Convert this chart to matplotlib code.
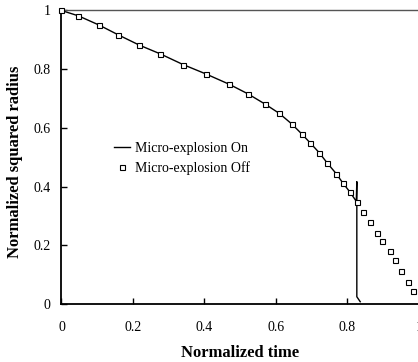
import matplotlib
matplotlib.use("Agg")
import matplotlib.pyplot as plt

# Micro-explosion Off (open squares)
t_off = [0.0, 0.047, 0.106, 0.159, 0.218, 0.277, 0.340, 0.404, 0.469, 0.522,
         0.570, 0.609, 0.644, 0.672, 0.696, 0.721, 0.744, 0.769, 0.787, 0.807,
         0.826, 0.845, 0.864, 0.884, 0.897, 0.918, 0.932, 0.950, 0.971, 0.985]
r_off = [1.000, 0.982, 0.950, 0.917, 0.882, 0.852, 0.816, 0.784, 0.749, 0.716,
         0.681, 0.650, 0.614, 0.580, 0.549, 0.516, 0.480, 0.444, 0.413, 0.382,
         0.349, 0.314, 0.278, 0.242, 0.215, 0.180, 0.150, 0.113, 0.074, 0.045]

# Micro-explosion On (solid line)
t_on = [0.0, 0.047, 0.106, 0.159, 0.218, 0.277, 0.340, 0.404, 0.469, 0.522,
        0.570, 0.609, 0.644, 0.672, 0.696, 0.721, 0.744, 0.769, 0.787, 0.807,
        0.825, 0.8265, 0.8265, 0.836]
r_on = [1.000, 0.982, 0.950, 0.917, 0.882, 0.852, 0.816, 0.784, 0.749, 0.716,
        0.681, 0.650, 0.614, 0.580, 0.549, 0.516, 0.480, 0.444, 0.413, 0.382,
        0.350, 0.417, 0.025, 0.008]

ticks = [0, 0.2, 0.4, 0.6, 0.8, 1]
tick_labels = ["0", "0.2", "0.4", "0.6", "0.8", "1"]

plt.rcParams["font.family"] = ["Liberation Serif", "DejaVu Serif"]

fig = plt.figure(figsize=(4.18, 3.62), dpi=100)
ax = fig.add_axes([0.147, 0.160, 0.855, 0.811])

ax.plot(t_on, r_on, color="black", linewidth=1.0, label="Micro-explosion On")
ax.plot(t_off, r_off, linestyle="none", marker="s", markersize=3.6,
        markerfacecolor="white", markeredgecolor="black", markeredgewidth=0.8,
        clip_on=False, zorder=3, label="Micro-explosion Off")

ax.set_xlim(0, 1)
ax.set_ylim(0, 1)
ax.set_xticks(ticks)
ax.set_xticklabels(tick_labels)
ax.set_yticks(ticks)
ax.set_yticklabels(tick_labels)
ax.tick_params(direction="in", length=4, width=1, labelsize=10, colors="black")
ax.tick_params(axis="x", pad=12)
ax.tick_params(axis="y", pad=8)

ax.spines["left"].set_linewidth(1.3)
ax.spines["bottom"].set_linewidth(1.3)
ax.spines["top"].set_color("#555555")
ax.spines["top"].set_linewidth(1.0)
ax.spines["right"].set_visible(False)

ax.set_xlabel("Normalized time", fontsize=12, fontweight="bold", va="top")
ax.xaxis.set_label_coords(0.5, -0.138)
ax.set_ylabel("Normalized squared radius", fontsize=12, fontweight="bold")
ax.yaxis.set_label_coords(-0.108, 0.485)

ax.legend(loc="upper left", bbox_to_anchor=(0.132, 0.570), frameon=False,
          fontsize=10, handlelength=1.15, handletextpad=0.36, labelspacing=0.45,
          borderaxespad=0)

fig.savefig("out.png", dpi=100)
